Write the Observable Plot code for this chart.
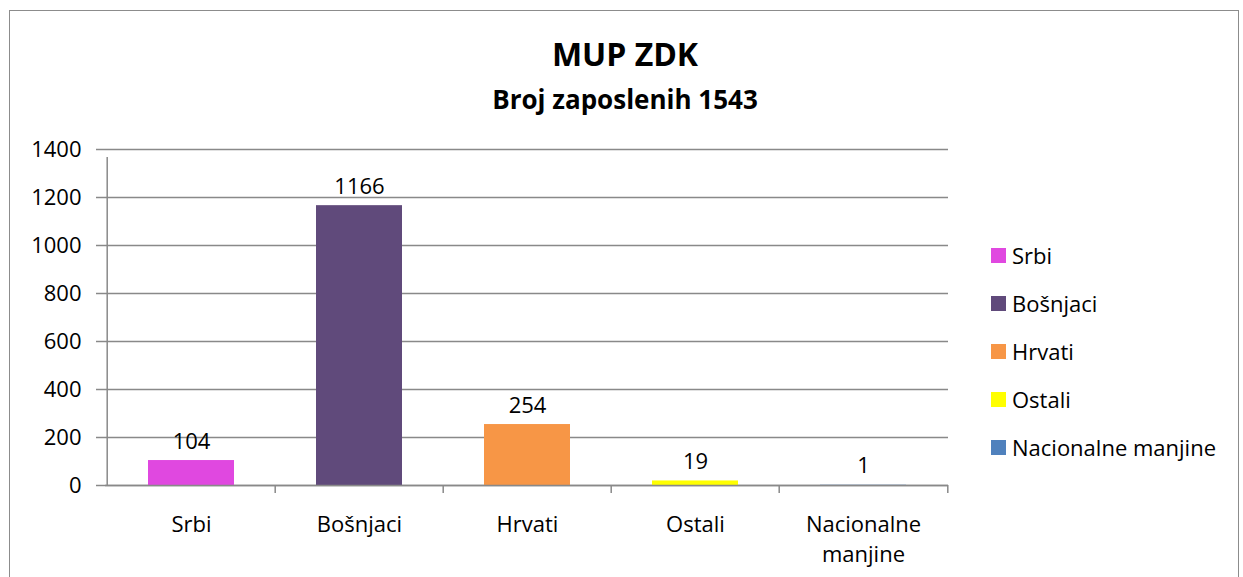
<!DOCTYPE html>
<html>
<head>
<meta charset="utf-8">
<script src="https://cdn.jsdelivr.net/npm/d3@7"></script>
<script src="https://cdn.jsdelivr.net/npm/@observablehq/plot@0.6"></script>
<style>
  html, body { margin: 0; padding: 0; background: #fff; }
  #wrap { position: relative; width: 1243px; height: 577px; overflow: hidden; font-family: "Open Sans", sans-serif; }
  #frame { position: absolute; left: 9px; top: 10px; width: 1230px; height: 600px; border: 1.5px solid #8c8c8c; box-sizing: border-box; }
  #titles { position: absolute; left: 10px; top: 0; width: 1230px; height: 125px; text-align: center; color: #000; }
  #t1 { position: absolute; left: 0; right: 0; top: 34px; font-size: 32px; font-weight: 700; line-height: 40px; }
  #t2 { position: absolute; left: 0; right: 0; top: 83px; font-size: 26px; font-weight: 700; line-height: 32px; }
  #chart { position: absolute; left: 0; top: 125px; }
  #legend { position: absolute; left: 991px; top: 231px; font-size: 22px; color: #000; }
  .li { height: 48px; display: flex; align-items: center; }
  .sw { width: 15px; height: 15px; margin-right: 6px; flex: none; }
</style>
</head>
<body>
<div id="wrap">
  <div id="frame"></div>
  <div id="titles"><div id="t1"></div><div id="t2"></div></div>
  <div id="chart"></div>
  <div id="legend"></div>
</div>
<script>
const title = "MUP ZDK";
const subtitle = "Broj zaposlenih 1543";
const categories = ["Srbi", "Bošnjaci", "Hrvati", "Ostali", "Nacionalne manjine"];
const values = [104, 1166, 254, 19, 1];
const colors = ["#E048E0", "#604A7B", "#F79646", "#FFFF00", "#4F81BD"];
const yTicks = [0, 200, 400, 600, 800, 1000, 1200, 1400];

document.getElementById("t1").textContent = title;
document.getElementById("t2").textContent = subtitle;

const data = categories.map((c, i) => ({category: c, value: values[i]}));

const W = 1243, H = 452;
const mL = 105, mR = 295, mT = 24, mB = 92;
const step = (W - mL - mR) / categories.length;
const gray = "#898989";

const plot = Plot.plot({
  width: W,
  height: H,
  marginLeft: mL,
  marginRight: mR,
  marginTop: mT,
  marginBottom: mB,
  style: {fontFamily: "Open Sans, sans-serif", fontSize: "22px", color: "#000", background: "transparent", overflow: "visible"},
  x: {domain: categories, paddingInner: 0.49, paddingOuter: 0.245, label: null},
  y: {domain: [0, 1400], label: null},
  color: {domain: categories, range: colors},
  marks: [
    Plot.gridY(yTicks, {stroke: gray, strokeOpacity: 1, strokeWidth: 1.5}),
    Plot.axisY(yTicks, {tickSize: 9, tickPadding: 15, stroke: gray, strokeWidth: 1.5, fill: "#000", fontSize: 22, label: null, tickFormat: d => String(d)}),
    Plot.rectY(data, {x: "category", y: "value", fill: "category"}),
    Plot.ruleY([0], {stroke: gray, strokeWidth: 1.5}),
    Plot.ruleX(categories, {x: d => d, y1: 0, y2: 1400, insetBottom: -8, dx: -step / 2, stroke: gray, strokeWidth: 1.5, filter: (d, i) => i === 0}),
    Plot.ruleX(categories, {x: d => d, y1: 0, y2: 0, insetBottom: -8, dx: -step / 2, stroke: gray, strokeWidth: 1.5, filter: (d, i) => i > 0}),
    Plot.ruleX(categories.slice(-1), {x: d => d, y1: 0, y2: 0, insetBottom: -8, dx: step / 2, stroke: gray, strokeWidth: 1.5}),
    Plot.axisX({tickSize: 0, tickPadding: 25, fontSize: 22, lineHeight: 1.38, fill: "#000", label: null, tickFormat: d => d.replace(" ", "\n")}),
    Plot.text(data, {x: "category", y: "value", text: d => String(d.value), dy: -12, lineAnchor: "bottom", fontSize: 22, fill: "#000"})
  ]
});
document.getElementById("chart").appendChild(plot);

const legend = document.getElementById("legend");
categories.forEach((c, i) => {
  const row = document.createElement("div");
  row.className = "li";
  const sw = document.createElement("span");
  sw.className = "sw";
  sw.style.background = colors[i];
  const lab = document.createElement("span");
  lab.textContent = c;
  row.appendChild(sw);
  row.appendChild(lab);
  legend.appendChild(row);
});
</script>
</body>
</html>
